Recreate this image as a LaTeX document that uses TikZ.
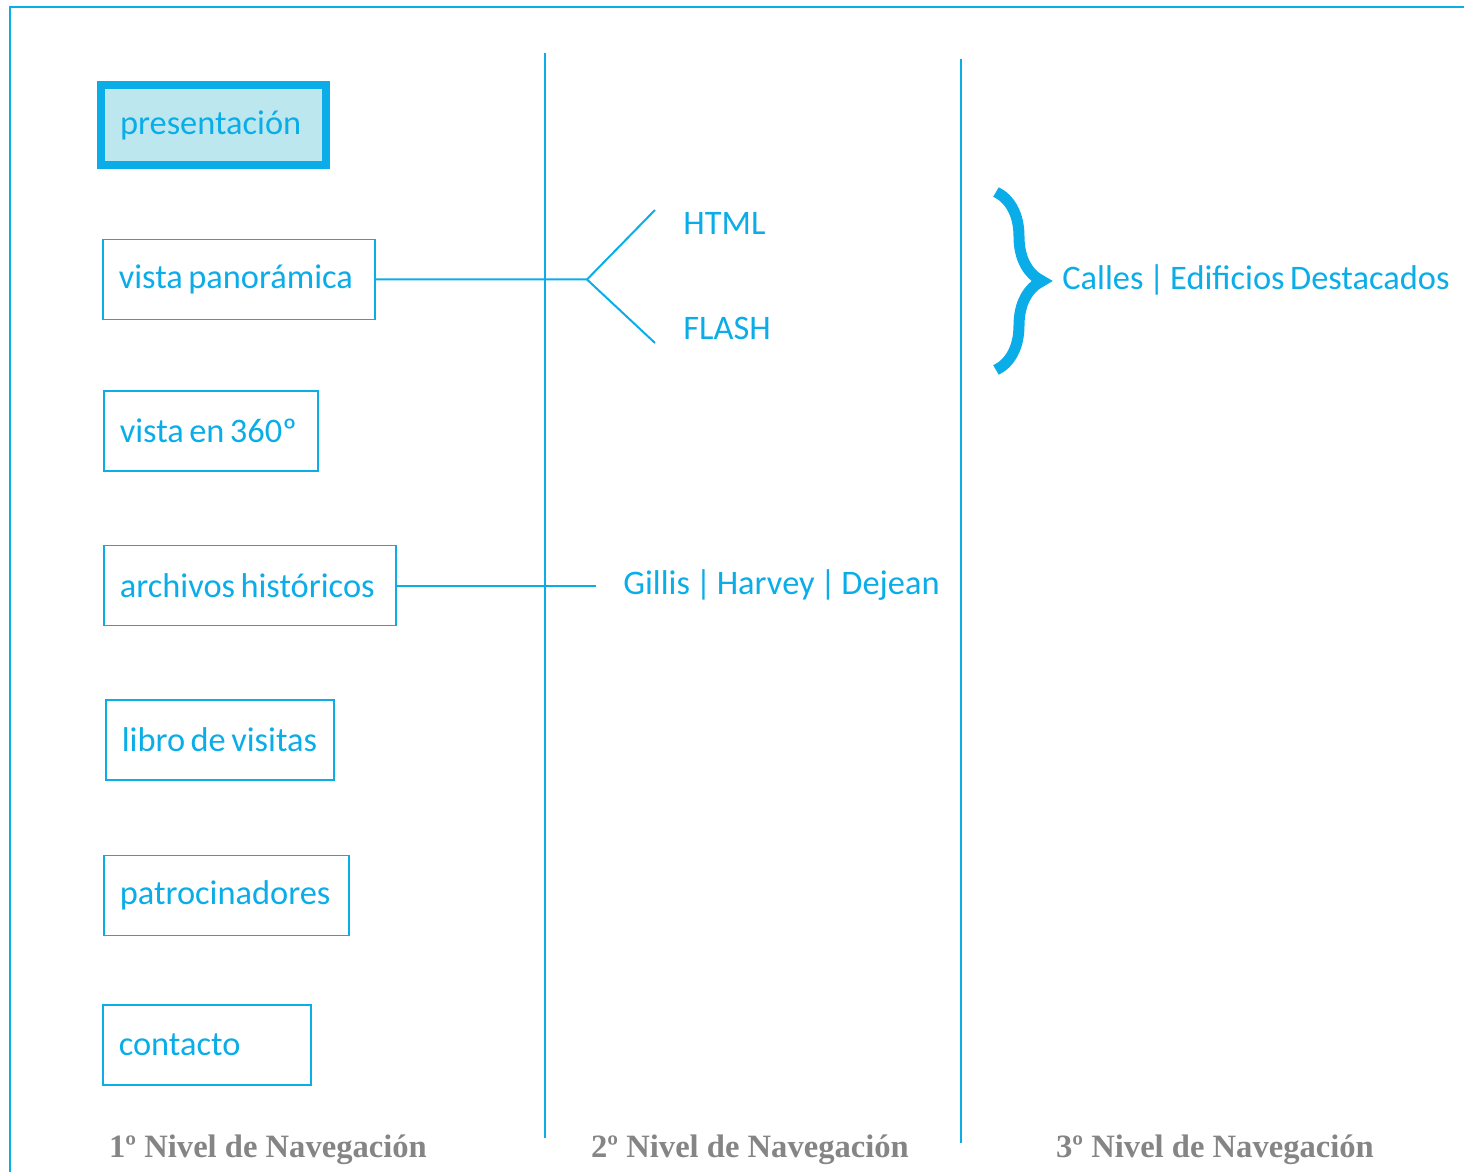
\documentclass[tikz,border=0pt]{standalone}
\usepackage{fontspec}
\usetikzlibrary{decorations.pathreplacing}
\setmainfont{Carlito}[WordSpace=0.7]
\newfontfamily\tituloFont{Liberation Serif}
\definecolor{azul}{HTML}{0BADE8}
\definecolor{celeste}{HTML}{BDE7EF}
\definecolor{gris}{HTML}{858585}
\begin{document}
\begin{tikzpicture}[x=0.5pt,y=-0.5pt,
  linea/.style={azul,line width=1pt},
  caja/.style={draw=azul,line width=0.8pt,anchor=west,align=left,
    minimum height=40pt,inner xsep=8pt,text=azul,font=\fontsize{17.2}{20}\selectfont,
    execute at begin node={\spaceskip=0pt\xspaceskip=0pt\hbox\bgroup},execute at end node=\egroup},
  etiqueta/.style={anchor=west,inner sep=0pt,text=azul,font=\fontsize{17.2}{20}\selectfont},
  nivel/.style={text=gris,font=\tituloFont\bfseries\fontsize{16.3}{18}\selectfont}]
\useasboundingbox (0,0) rectangle (1464,1172);
% marco
\draw[linea] (1464,7) -- (10,7) -- (10,1172);
% columnas
\draw[linea] (545,53) -- (545,1138);
\draw[linea] (961,59) -- (961,1143);
% primer nivel
\node[caja,draw=azul,fill=celeste,line width=4pt,inner xsep=9.5pt,text width=93.5pt] (pres) at (97,125) {presentación};
\node[caja,text width=120pt] (pano) at (102,279.5) {vista panorámica};
\node[caja,text width=91pt] (v360) at (103,431) {vista en 360º};
\node[caja,text width=130pt] (arch) at (103,585.5) {archivos históricos};
\node[caja,text width=98pt] (libro) at (105,740) {libro de visitas};
\node[caja,text width=106.5pt] (patro) at (103,895.5) {patrocinadores};
\node[caja,text width=88pt] (cont) at (102,1045) {contacto};
% segundo nivel
\coordinate (j1) at (587,279.5);
\coordinate (h1) at (655,210);
\coordinate (f1) at (655,343);
\coordinate (g1) at (596,585.5);
\node[etiqueta] (html) at (683,223) {HTML};
\node[etiqueta] (flash) at (683,328) {FLASH};
\node[etiqueta] (gillis) at (623,585.5) {Gillis | Harvey | Dejean};
\draw[linea] (pano.east) -- (j1) -- (h1);
\draw[linea] (j1) -- (f1);
\draw[linea] (arch.east) -- (g1);
% tercer nivel
\draw[azul,line width=5.5pt,decorate,decoration={brace,amplitude=23pt}] (996,192) -- (996,370);
\node[etiqueta] (calles) at (1062,280) {Calles | Edificios Destacados};
% titulos
\node[nivel] (n1) at (268,1150) {1º Nivel de Navegación};
\node[nivel] (n2) at (750,1150) {2º Nivel de Navegación};
\node[nivel] (n3) at (1215,1150) {3º Nivel de Navegación};
\end{tikzpicture}
\end{document}
